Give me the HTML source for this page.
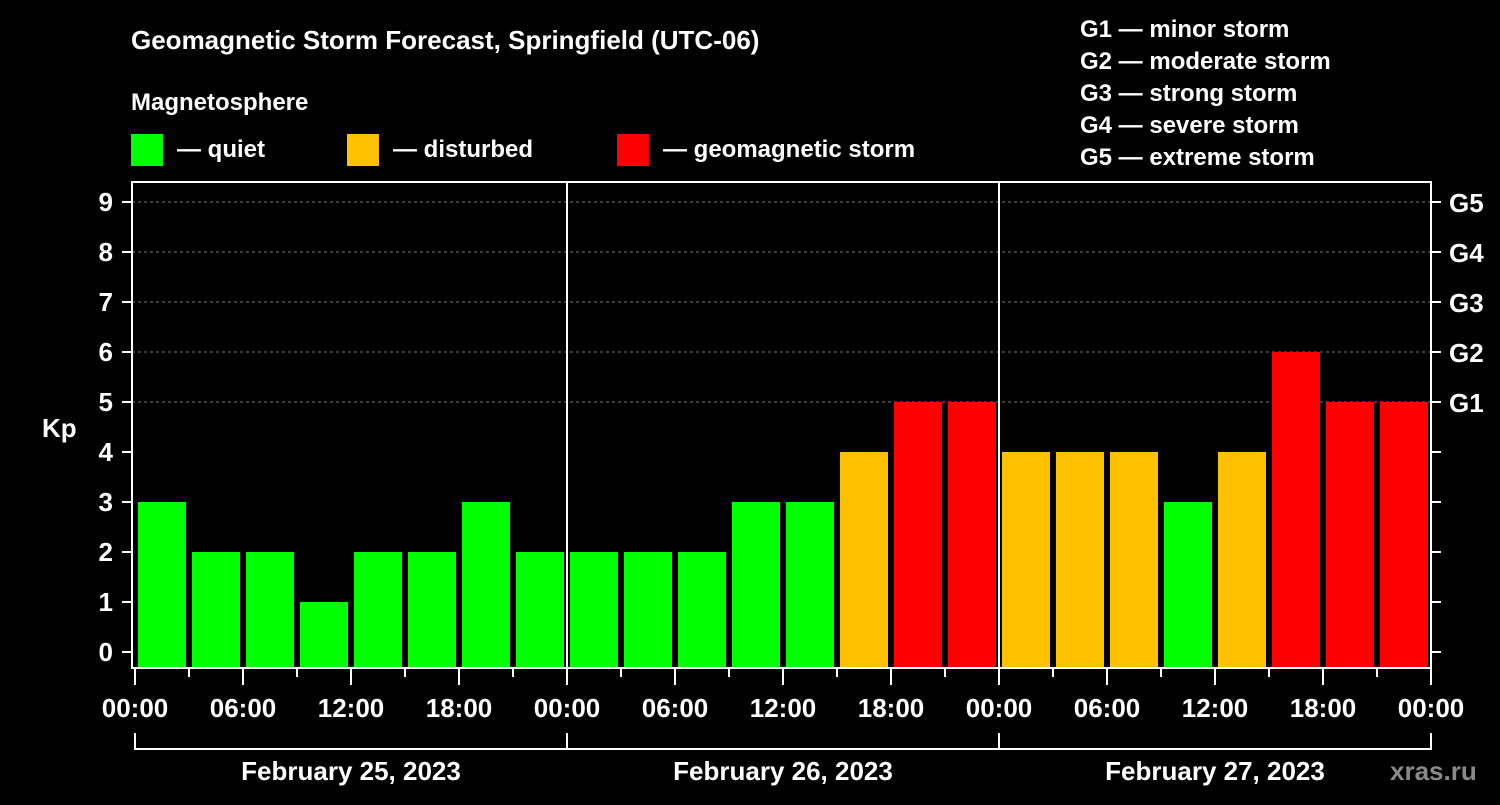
<!DOCTYPE html>
<html><head><meta charset="utf-8"><style>
body{margin:0;background:#000;width:1500px;height:800px;overflow:hidden}
text{font-family:"Liberation Sans",sans-serif;font-weight:bold;fill:#fff}
</style></head><body>
<svg id="chart" width="1500" height="800" xmlns="http://www.w3.org/2000/svg">
<rect width="1500" height="800" fill="#000"/>
<text x="131" y="49" font-size="26">Geomagnetic Storm Forecast, Springfield (UTC-06)</text>
<text x="131" y="110" font-size="24">Magnetosphere</text>
<g><rect x="131" y="134" width="32" height="32" fill="#00ff00"/><text x="177" y="157" font-size="24">— quiet</text></g>
<g><rect x="347" y="134" width="32" height="32" fill="#ffc000"/><text x="393" y="157" font-size="24">— disturbed</text></g>
<g><rect x="617" y="134" width="32" height="32" fill="#ff0000"/><text x="663" y="157" font-size="24">— geomagnetic storm</text></g>
<g font-size="24">
<text x="1080" y="37">G1 — minor storm</text>
<text x="1080" y="69">G2 — moderate storm</text>
<text x="1080" y="101">G3 — strong storm</text>
<text x="1080" y="133">G4 — severe storm</text>
<text x="1080" y="165">G5 — extreme storm</text>
</g>
<text x="42" y="437" font-size="26">Kp</text>
<text x="1390" y="780" font-size="26" fill="#888" style="fill:#8a8a8a">xras.ru</text>
<g id="grid"></g><g id="bars"></g><g id="axes"></g>
</svg>
<script>
const kpValues=[3,2,2,1,2,2,3,2, 2,2,2,3,3,4,5,5, 4,4,4,3,4,6,5,5];
const dayLabels=["February 25, 2023","February 26, 2023","February 27, 2023"];
const hourLabels=["00:00","06:00","12:00","18:00"];
const gLabels=["G1","G2","G3","G4","G5"];
const NS="http://www.w3.org/2000/svg";
const X0=135,HOURPX=18,Y0=652,KPX=50,BOTTOM=668,TOP=182,RIGHT=1431;
const x=h=>X0+h*HOURPX, y=v=>Y0-v*KPX;
function mk(tag,attrs,parent){const e=document.createElementNS(NS,tag);for(const k in attrs)e.setAttribute(k,attrs[k]);document.getElementById(parent).appendChild(e);return e;}
// grid lines
for(let v=5;v<=9;v++){const l=mk('line',{x1:132,x2:RIGHT,y1:y(v),y2:y(v),stroke:'#777','stroke-dasharray':'3,3'},'grid');

}
// bars
kpValues.forEach((v,i)=>{const c=v<=3?'#00ff00':(v==4?'#ffc000':'#ff0000');
const r=mk('rect',{x:x(i*3)+3,y:y(v),width:48,height:BOTTOM-y(v),fill:c},'bars');

});
// frame & day separators
const f=mk('rect',{x:132,y:TOP,width:RIGHT-132,height:BOTTOM-TOP,fill:'none',stroke:'#fff','stroke-width':2},'axes');


for(let d=1;d<3;d++){const l=mk('line',{x1:x(d*24),x2:x(d*24),y1:TOP,y2:BOTTOM,stroke:'#fff','stroke-width':2},'axes');

}
// y ticks
for(let v=0;v<=9;v++){mk('line',{x1:122,x2:132,y1:y(v),y2:y(v),stroke:'#fff','stroke-width':2},'axes');
mk('line',{x1:RIGHT,x2:RIGHT+10,y1:y(v),y2:y(v),stroke:'#fff','stroke-width':2},'axes');
const t=mk('text',{x:113,y:y(v)+9,'font-size':26,'text-anchor':'end'},'axes');t.textContent=v;

}
gLabels.forEach((g,i)=>{const t=mk('text',{x:1449,y:y(i+5)+10,'font-size':26},'axes');t.textContent=g;

});
// x ticks
for(let h=0;h<=72;h+=3){const major=h%6==0;mk('line',{x1:x(h),x2:x(h),y1:BOTTOM,y2:major?685:677,stroke:'#fff','stroke-width':2},'axes');
if(major&&h%6==0&&(h%24)%6==0){const lbl=h==72?hourLabels[0]:hourLabels[(h%24)/6];
const t=mk('text',{x:x(h),y:717,'font-size':26,'text-anchor':'middle'},'axes');t.textContent=lbl;

}}
// day brackets
dayLabels.forEach((d,i)=>{const a=x(i*24),b=x(i*24+24);
mk('path',{d:`M${a},733V749H${b}V733`,stroke:'#fff','stroke-width':2,fill:'none'},'axes');
const t=mk('text',{x:(a+b)/2,y:780,'font-size':26,'text-anchor':'middle'},'axes');t.textContent=d;

});
</script>
</body></html>
